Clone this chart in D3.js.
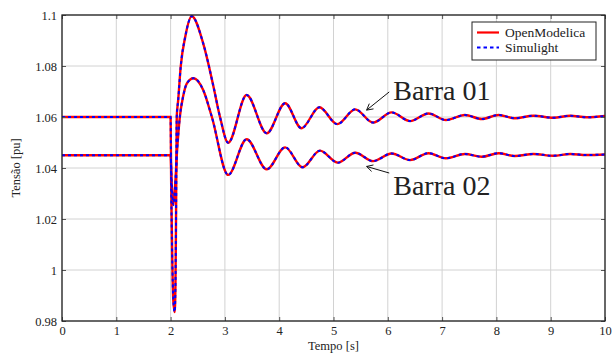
<!DOCTYPE html>
<html>
<head>
<meta charset="utf-8">
<script src="https://cdn.jsdelivr.net/npm/d3@7"></script>
<style>
  body { margin: 0; background: #fff; }
  svg text { font-family: "Liberation Serif", "DejaVu Serif", serif; fill: #222; }
</style>
</head>
<body>
<svg id="chart" width="613" height="356"></svg>
<script>
// Barra 01 (tempo em s, tensao em pu)
const barra01Tempo = [0, 2.0, 2.01, 2.03, 2.05, 2.075, 2.09, 2.10, 2.113, 2.14, 2.186, 2.27, 2.39, 2.6, 2.79, 2.91,
  3.06, 3.40, 3.77, 4.11, 4.41, 4.74, 5.07, 5.40, 5.73, 6.07, 6.41, 6.75, 7.07, 7.42, 7.73, 8.04, 8.34, 8.68, 9.05, 9.36, 9.66, 10];
const barra01Tensao = [1.06, 1.06, 1.035, 1.005, 0.988, 0.9835, 0.995, 1.02, 1.06, 1.0667, 1.0797, 1.0915, 1.0995, 1.0889, 1.0719, 1.06,
  1.0499, 1.0686, 1.0536, 1.0654, 1.0556, 1.0638, 1.0572, 1.063, 1.0578, 1.0618, 1.0584, 1.0614, 1.0588, 1.0608, 1.0592, 1.0608, 1.0595, 1.0605, 1.0597, 1.0605, 1.0599, 1.0604];

// Barra 02
const barra02Tempo = [0, 2.0, 2.02, 2.05, 2.08, 2.12, 2.17, 2.23, 2.30, 2.42, 2.60, 2.76,
  3.06, 3.40, 3.77, 4.11, 4.43, 4.75, 5.08, 5.40, 5.73, 6.07, 6.41, 6.75, 7.07, 7.42, 7.73, 8.04, 8.34, 8.68, 9.05, 9.36, 9.66, 10];
const barra02Tensao = [1.045, 1.045, 1.034, 1.0255, 1.032, 1.047, 1.06, 1.068, 1.0732, 1.0752, 1.0706, 1.06,
  1.0373, 1.0513, 1.0395, 1.0481, 1.0403, 1.0468, 1.0421, 1.046, 1.0427, 1.0457, 1.0431, 1.0458, 1.0438, 1.0455, 1.0444, 1.0458, 1.0447, 1.0455, 1.0448, 1.0455, 1.0451, 1.0453];

const xTicks = [0, 1, 2, 3, 4, 5, 6, 7, 8, 9, 10];
const yTicks = [0.98, 1, 1.02, 1.04, 1.06, 1.08, 1.1];
const seriesNames = ["OpenModelica", "Simulight"];

// annotations: [label, text t, text v, arrow tip t, arrow tip v]
const annotacoes = [
  ["Barra 01", 6.1, 1.0667, 5.61, 1.0627],
  ["Barra 02", 6.1, 1.0294, 5.61, 1.0406]
];

const margin = {top: 15, right: 8, bottom: 35, left: 62};
const width = 613 - margin.left - margin.right;
const height = 356 - margin.top - margin.bottom;

const svg = d3.select("#chart");
const g = svg.append("g").attr("transform", "translate(" + margin.left + "," + margin.top + ")");

const x = d3.scaleLinear().domain([0, 10]).range([0, width]);
const y = d3.scaleLinear().domain([0.98, 1.1]).range([height, 0]);

// grid
g.append("g").selectAll("line").data(xTicks).enter().append("line")
  .attr("x1", d => x(d)).attr("x2", d => x(d)).attr("y1", 0).attr("y2", height)
  .attr("stroke", "#d2d2d2").attr("stroke-width", 1);
g.append("g").selectAll("line").data(yTicks).enter().append("line")
  .attr("x1", 0).attr("x2", width).attr("y1", d => y(d)).attr("y2", d => y(d))
  .attr("stroke", "#d2d2d2").attr("stroke-width", 1);

// curves
const line = d3.line().x(d => x(d[0])).y(d => y(d[1])).curve(d3.curveMonotoneX);
const dados = [
  d3.zip(barra01Tempo, barra01Tensao),
  d3.zip(barra02Tempo, barra02Tensao)
];
dados.forEach(function (d) {
  g.append("path").datum(d).attr("d", line)
    .attr("fill", "none").attr("stroke", "#ff0000").attr("stroke-width", 2.4);
});
dados.forEach(function (d) {
  g.append("path").datum(d).attr("d", line)
    .attr("fill", "none").attr("stroke", "#0000ff").attr("stroke-width", 2)
    .attr("stroke-dasharray", "3,3");
});

// axes (ticks inward on all sides)
const fmt = d => d3.format("")(+d.toFixed(2));
const axB = d3.axisBottom(x).tickValues(xTicks).tickSizeInner(-4).tickSizeOuter(0).tickPadding(5).tickFormat(fmt);
const axT = d3.axisTop(x).tickValues(xTicks).tickSizeInner(-4).tickSizeOuter(0).tickFormat("");
const axL = d3.axisLeft(y).tickValues(yTicks).tickSizeInner(-4).tickSizeOuter(0).tickPadding(5).tickFormat(fmt);
const axR = d3.axisRight(y).tickValues(yTicks).tickSizeInner(-4).tickSizeOuter(0).tickFormat("");

g.append("g").attr("transform", "translate(0," + height + ")").call(axB).attr("class", "axis");
g.append("g").call(axT).attr("class", "axis");
g.append("g").call(axL).attr("class", "axis");
g.append("g").attr("transform", "translate(" + width + ",0)").call(axR).attr("class", "axis");
svg.selectAll(".axis .domain").remove();
svg.selectAll(".axis .tick line").attr("stroke", "#555");
svg.selectAll(".axis text").attr("font-size", "12.5px").attr("fill", "#222")
  .style("font-family", "'Liberation Serif', 'DejaVu Serif', serif");

// frame
g.append("rect").attr("x", 0).attr("y", 0).attr("width", width).attr("height", height)
  .attr("fill", "none").attr("stroke", "#222").attr("stroke-width", 1.3);

// axis labels
svg.append("text").attr("x", margin.left + width / 2).attr("y", 350)
  .attr("text-anchor", "middle").attr("font-size", "12.5px").text("Tempo [s]");
svg.append("text").attr("transform", "translate(20," + (margin.top + height / 2) + ") rotate(-90)")
  .attr("text-anchor", "middle").attr("font-size", "12.5px").text("Tensão [pu]");

// annotations
annotacoes.forEach(function (a) {
  const tx = x(a[1]), ty = y(a[2]), ax = x(a[3]), ay = y(a[4]);
  const up = ay > ty;
  const sx = tx - 4, sy = up ? ty - 8 : ty - 22;
  g.append("line").attr("x1", sx).attr("y1", sy).attr("x2", ax).attr("y2", ay)
    .attr("stroke", "#111").attr("stroke-width", 1);
  const ang = Math.atan2(ay - sy, ax - sx);
  const L = 7, w = 0.5;
  g.append("path")
    .attr("d", "M" + (ax - L * Math.cos(ang - w)) + "," + (ay - L * Math.sin(ang - w)) +
      "L" + ax + "," + ay + "L" + (ax - L * Math.cos(ang + w)) + "," + (ay - L * Math.sin(ang + w)))
    .attr("fill", "none").attr("stroke", "#111").attr("stroke-width", 1);
  g.append("text").attr("x", tx).attr("y", ty).attr("font-size", "28px").attr("fill", "#222").text(a[0]);
});

// legend
const leg = svg.append("g").attr("transform", "translate(472,22)");
leg.append("rect").attr("width", 124).attr("height", 38).attr("fill", "#fff").attr("stroke", "#222").attr("stroke-width", 1);
seriesNames.forEach(function (s, i) {
  const yy = 10.5 + i * 15;
  leg.append("line").attr("x1", 5).attr("x2", 27).attr("y1", yy).attr("y2", yy)
    .attr("stroke", i === 0 ? "#ff0000" : "#0000ff").attr("stroke-width", i === 0 ? 2.2 : 2)
    .attr("stroke-dasharray", i === 0 ? null : "3.5,3");
  leg.append("text").attr("x", 33).attr("y", yy + 4).attr("font-size", "13.5px").text(s);
});
</script>
</body>
</html>
